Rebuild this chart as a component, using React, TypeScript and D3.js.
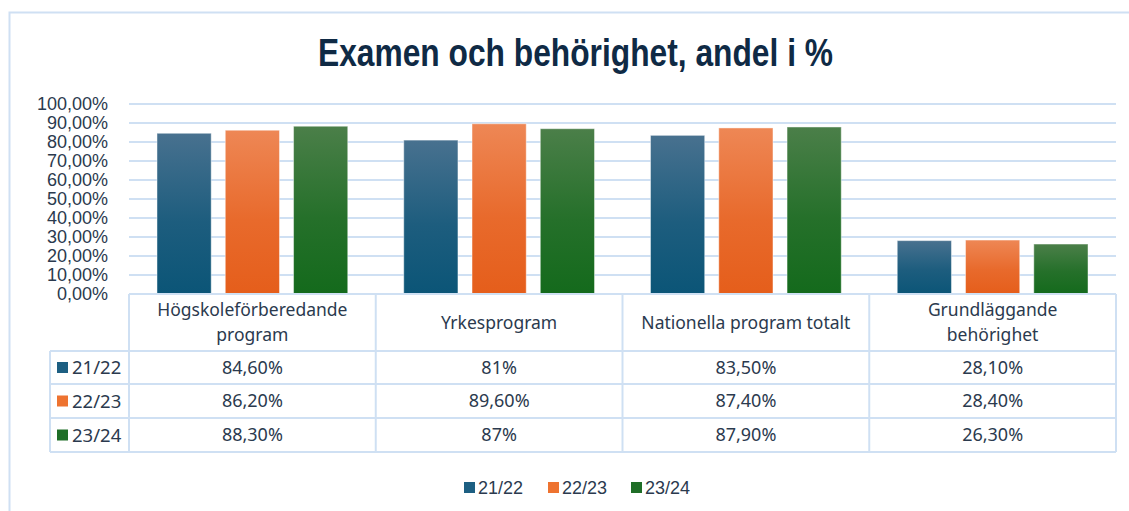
import React from "react";
import * as d3 from "d3";

const title = "Examen och behörighet, andel i %";
const categories = [
  ["Högskoleförberedande", "program"],
  ["Yrkesprogram"],
  ["Nationella program totalt"],
  ["Grundläggande", "behörighet"],
];
const series = ["21/22", "22/23", "23/24"];
const values2122 = [0.846, 0.81, 0.835, 0.281];
const values2223 = [0.862, 0.896, 0.874, 0.284];
const values2324 = [0.883, 0.87, 0.879, 0.263];
const yTicks = [0, 0.1, 0.2, 0.3, 0.4, 0.5, 0.6, 0.7, 0.8, 0.9, 1.0];

const seriesValues = [values2122, values2223, values2324];
const colors = [
  { top: "#48718f", bottom: "#0b5577", key: "#1d5f82" },
  { top: "#ee8755", bottom: "#e55e1b", key: "#ee7330" },
  { top: "#4b7f49", bottom: "#146a1c", key: "#1f6e27" },
];

const W = 1129;
const H = 511;
const left = 129;
const right = 1116;
const top = 104;
const bottom = 294;
const gridColor = "#cfe0f3";
const textColor = "#2b3a4e";
const tableFont = "'Noto Sans', 'Open Sans', sans-serif";
const axisFont = "'Liberation Sans', Arial, sans-serif";

const pct = (v: number) => {
  const p = Math.round(v * 10000) / 100;
  if (Number.isInteger(p)) return `${p}%`;
  return `${p.toFixed(2).replace(".", ",")}%`;
};
const tickPct = (t: number) => `${(t * 100).toFixed(2).replace(".", ",")}%`;

export default function App() {
  const idx = categories.map((_, i) => String(i));
  const x = d3.scaleBand().domain(idx).range([left, right]);
  const xs = d3
    .scaleBand()
    .domain(series)
    .range([0, x.bandwidth()])
    .paddingInner(0.206)
    .paddingOuter(0.41);
  const y = d3.scaleLinear().domain([0, 1]).range([bottom, top]);

  // tabellens rader
  const headerBottom = 351;
  const rowY = [351, 384, 418, 452];
  const tableLeft = 50;

  return (
    <svg width={W} height={H} style={{ position: "absolute", left: 0, top: 0 }}>
      <defs>
        {colors.map((c, i) => (
          <linearGradient key={i} id={`g${i}`} x1="0" y1="0" x2="0" y2="1">
            <stop offset="0%" stopColor={c.top} />
            <stop offset="55%" stopColor={d3.interpolateRgb(c.top, c.bottom)(0.7)} />
            <stop offset="100%" stopColor={c.bottom} />
          </linearGradient>
        ))}
      </defs>
      <rect x={0} y={0} width={W} height={H} fill="#fff" />
      {/* ram */}
      <path d={`M${W + 2},12.5 H9.5 V${H + 2}`} fill="none" stroke={gridColor} strokeWidth={2} />

      <text
        x={575.5}
        y={66}
        textAnchor="middle"
        fontFamily="'Liberation Sans', Arial, sans-serif"
        fontWeight="bold"
        fontSize={38}
        fill="#0f2a45"
        textLength={515}
        lengthAdjust="spacingAndGlyphs"
      >
        {title}
      </text>

      {/* stödlinjer */}
      {yTicks.map((t) => (
        <line key={t} x1={left} x2={right} y1={y(t)} y2={y(t)} stroke={gridColor} strokeWidth={2} />
      ))}
      {yTicks.map((t) => (
        <text
          key={"l" + t}
          x={108}
          y={y(t)}
          dy="0.36em"
          textAnchor="end"
          fontFamily={axisFont}
          fontSize={18}
          fill={textColor}
        >
          {tickPct(t)}
        </text>
      ))}

      {/* staplar */}
      {categories.map((_, ci) =>
        series.map((s, si) => {
          const v = seriesValues[si][ci];
          const bx = (x(String(ci)) as number) + (xs(s) as number);
          return (
            <rect
              key={ci + s}
              x={bx}
              y={y(v)}
              width={xs.bandwidth()}
              height={y(0) - y(v)}
              fill={`url(#g${si})`}
              stroke="#ffffff"
              strokeOpacity={0.45}
              strokeWidth={1}
            />
          );
        })
      )}

      {/* datatabell */}
      <g fill="none" stroke={gridColor} strokeWidth={2}>
        <line x1={left} x2={right} y1={bottom} y2={bottom} />
        {rowY.map((ry) => (
          <line key={ry} x1={tableLeft} x2={right} y1={ry} y2={ry} />
        ))}
        <line x1={tableLeft} x2={tableLeft} y1={headerBottom} y2={rowY[3]} />
        {idx.map((i) => (
          <line key={i} x1={x(i) as number} x2={x(i) as number} y1={bottom} y2={rowY[3]} />
        ))}
        <line x1={right} x2={right} y1={bottom} y2={rowY[3]} />
      </g>

      {categories.map((lines, ci) => {
        const cx = (x(String(ci)) as number) + x.bandwidth() / 2;
        const mid = (bottom + headerBottom) / 2;
        const lh = 25;
        return (
          <text
            key={"c" + ci}
            textAnchor="middle"
            fontFamily={tableFont}
            fontSize={17.5}
            fill={textColor}
          >
            {lines.map((ln, li) => (
              <tspan
                key={li}
                x={cx}
                y={mid + (li - (lines.length - 1) / 2) * lh}
                dy="0.35em"
              >
                {ln}
              </tspan>
            ))}
          </text>
        );
      })}

      {series.map((s, si) => {
        const cy = (rowY[si] + rowY[si + 1]) / 2;
        return (
          <g key={"r" + s}>
            <rect x={57} y={cy - 5.5} width={11} height={11} fill={colors[si].key} />
            <text x={72} y={cy} dy="0.36em" fontFamily={tableFont} fontSize={18.5} fill={textColor}>
              {s}
            </text>
            {categories.map((_, ci) => (
              <text
                key={ci}
                x={(x(String(ci)) as number) + x.bandwidth() / 2}
                y={cy}
                dy="0.36em"
                textAnchor="middle"
                fontFamily={tableFont}
                fontSize={18}
                fill={textColor}
              >
                {pct(seriesValues[si][ci])}
              </text>
            ))}
          </g>
        );
      })}

      {/* förklaring */}
      {series.map((s, si) => {
        const lx = [464, 548, 631][si];
        return (
          <g key={"lg" + s}>
            <rect x={lx} y={482} width={11} height={11} fill={colors[si].key} />
            <text x={lx + 14} y={487.5} dy="0.36em" fontFamily={axisFont} fontSize={18} fill={textColor}>
              {s}
            </text>
          </g>
        );
      })}
    </svg>
  );
}
